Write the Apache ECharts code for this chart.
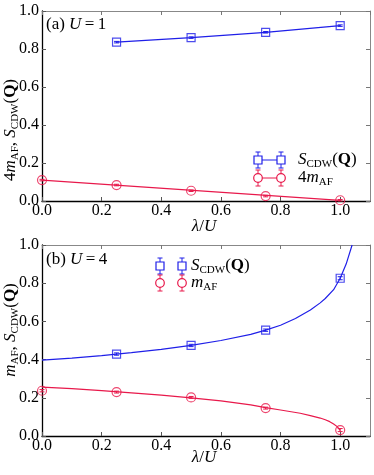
<!DOCTYPE html>
<html>
<head>
<meta charset="utf-8">
<script src="https://cdn.jsdelivr.net/npm/echarts@6/dist/echarts.min.js"></script>
<style>
  html, body { margin: 0; padding: 0; background: #fff; }
  #chart { width: 374px; height: 475px; }
</style>
</head>
<body>
<div id="chart"></div>
<script>
// panel (a) U=1
const lamA = [0.25, 0.5, 0.75, 1.0]
const sCdwA = [0.836, 0.860, 0.888, 0.923]
const sCdwAErr = [0.004, 0.004, 0.004, 0.004]
const lamMA = [0, 0.25, 0.5, 0.75, 1.0]
const mAfA = [0.110, 0.084, 0.054, 0.026, 0.004]
const mAfAErr = [0.004, 0.004, 0.004, 0.004, 0.004]
const fitLamMA = [0, 1.0]
const fitMAfA = [0.110, 0.003]

// panel (b) U=4
const lamB = [0.25, 0.5, 0.75, 1.0]
const sCdwB = [0.429, 0.474, 0.554, 0.826]
const sCdwBErr = [0.006, 0.006, 0.006, 0.008]
const lamMB = [0, 0.25, 0.5, 0.75, 1.0]
const mAfB = [0.237, 0.230, 0.202, 0.146, 0.031]
const mAfBErr = [0.006, 0.005, 0.005, 0.005, 0.008]
const fitLamSB = [0, 0.1, 0.2, 0.3, 0.4, 0.5, 0.6, 0.7, 0.75, 0.8, 0.85, 0.9, 0.933, 0.95, 0.978, 1.0, 1.02, 1.04]
const fitSB = [0.397, 0.408, 0.421, 0.437, 0.454, 0.474, 0.500, 0.532, 0.554, 0.580, 0.615, 0.660, 0.697, 0.720, 0.766, 0.826, 0.900, 1.0]
const fitLamMB = [0, 0.1, 0.2, 0.3, 0.4, 0.5, 0.6, 0.7, 0.75, 0.8, 0.866, 0.9, 0.933, 0.95, 0.965, 0.978, 0.99, 1.0]
const fitMB = [0.256, 0.248, 0.238, 0.226, 0.214, 0.200, 0.184, 0.163, 0.149, 0.136, 0.119, 0.107, 0.094, 0.085, 0.075, 0.063, 0.049, 0.030]

const BLUE = '#1f1fe8'
const RED = '#e8194b'
const FONT = 'Liberation Serif'

const zip = (xs, ys) => xs.map((x, i) => [x, ys[i]])
const zipErr = (xs, ys, es) => xs.map((x, i) => [x, ys[i] - es[i], ys[i] + es[i]])

const rich = {
  n: { fontFamily: FONT, fontSize: 17, color: '#000', lineHeight: 20 },
  i: { fontFamily: FONT, fontSize: 17, fontStyle: 'italic', color: '#000', lineHeight: 20 },
  b: { fontFamily: FONT, fontSize: 17, fontWeight: 'bold', color: '#000', lineHeight: 20 },
  s: { fontFamily: FONT, fontSize: 11, color: '#000', lineHeight: 9, verticalAlign: 'bottom' }
}
const tickRich = { t: { fontFamily: FONT, fontSize: 16, color: '#000', lineHeight: 16 } }
const S_LABEL = '{i|S}{s|CDW}{n|(}{b|Q}{n|)}'

function errorBars(xi, yi, data, color) {
  return {
    type: 'custom',
    xAxisIndex: xi,
    yAxisIndex: yi,
    data: data,
    z: 3,
    renderItem(params, api) {
      const lo = api.coord([api.value(0), api.value(1)])
      const hi = api.coord([api.value(0), api.value(2)])
      const w = 2.5
      const st = { stroke: color, lineWidth: 1 }
      return {
        type: 'group',
        children: [
          { type: 'line', shape: { x1: lo[0], y1: lo[1], x2: hi[0], y2: hi[1] }, style: st },
          { type: 'line', shape: { x1: lo[0] - w, y1: lo[1], x2: lo[0] + w, y2: lo[1] }, style: st },
          { type: 'line', shape: { x1: hi[0] - w, y1: hi[1], x2: hi[0] + w, y2: hi[1] }, style: st }
        ]
      }
    }
  }
}

function points(xi, yi, data, symbol, size, color) {
  return {
    type: 'scatter',
    xAxisIndex: xi,
    yAxisIndex: yi,
    data: data,
    symbol: symbol,
    symbolSize: size,
    z: 4,
    itemStyle: { color: 'rgba(0,0,0,0)', borderColor: color, borderWidth: 1.2 }
  }
}

function curve(xi, yi, data, color) {
  return {
    type: 'line',
    xAxisIndex: xi,
    yAxisIndex: yi,
    data: data,
    showSymbol: false,
    symbol: 'none',
    clip: true,
    z: 2,
    lineStyle: { color: color, width: 1.2 }
  }
}

// legend swatch: two markers with error bars, optional joining line
function legendItem(x1, x2, y, symbol, color, joined) {
  const st = { stroke: color, lineWidth: 1, fill: null }
  const kids = []
  if (joined) kids.push({ type: 'line', shape: { x1: x1, y1: y, x2: x2, y2: y }, style: st })
  ;[x1, x2].forEach(x => {
    kids.push({ type: 'line', shape: { x1: x, y1: y - 8, x2: x, y2: y + 8 }, style: st })
    kids.push({ type: 'line', shape: { x1: x - 2.5, y1: y - 8, x2: x + 2.5, y2: y - 8 }, style: st })
    kids.push({ type: 'line', shape: { x1: x - 2.5, y1: y + 8, x2: x + 2.5, y2: y + 8 }, style: st })
    if (symbol === 'rect') {
      kids.push({ type: 'rect', shape: { x: x - 4, y: y - 4, width: 8, height: 8 }, style: { stroke: color, lineWidth: 1.2, fill: '#fff' } })
    } else {
      kids.push({ type: 'circle', shape: { cx: x, cy: y, r: 4.3 }, style: { stroke: color, lineWidth: 1.2, fill: '#fff' } })
    }
  })
  return { type: 'group', children: kids, z: 10 }
}

function txt(x, y, text, rot, align) {
  return {
    type: 'text',
    x: x,
    y: y,
    rotation: rot || 0,
    z: 10,
    style: { text: text, rich: rich, align: align || (rot ? 'center' : 'left'), verticalAlign: 'middle' }
  }
}

const grids = [
  { left: 42, top: 11, width: 328, height: 190 },
  { left: 42, top: 245, width: 328, height: 191 }
]

const tickFmt = v => '{t|' + v.toFixed(1) + '}'

const xAxes = []
const yAxes = []
grids.forEach((g, gi) => {
  xAxes.push({
    type: 'value', gridIndex: gi, position: 'bottom', min: 0, max: 1.1, interval: 0.2,
    axisLine: { show: true, lineStyle: { color: '#000', width: 1.3 } },
    axisTick: { show: true, inside: true, length: 4, lineStyle: { color: '#555' } },
    axisLabel: { fontFamily: FONT, fontSize: 16, color: '#000', margin: 2, showMaxLabel: false, formatter: tickFmt, rich: tickRich },
    splitLine: { show: false }
  })
  xAxes.push({
    type: 'value', gridIndex: gi, position: 'top', min: 0, max: 1.1, interval: 0.2,
    axisLine: { show: true, onZero: false, lineStyle: { color: '#888', width: 1 } },
    axisTick: { show: true, inside: true, length: 4, lineStyle: { color: '#777' } },
    axisLabel: { show: false },
    splitLine: { show: false }
  })
  yAxes.push({
    type: 'value', gridIndex: gi, position: 'left', min: 0, max: 1.0, interval: 0.2,
    axisLine: { show: true, onZero: false, lineStyle: { color: '#000', width: 1.3 } },
    axisTick: { show: true, inside: true, length: 4, lineStyle: { color: '#555' } },
    axisLabel: { fontFamily: FONT, fontSize: 16, color: '#000', margin: 3, formatter: tickFmt, rich: tickRich },
    splitLine: { show: false }
  })
  yAxes.push({
    type: 'value', gridIndex: gi, position: 'right', min: 0, max: 1.0, interval: 0.2,
    axisLine: { show: true, onZero: false, lineStyle: { color: '#888', width: 1 } },
    axisTick: { show: true, inside: true, length: 4, lineStyle: { color: '#777' } },
    axisLabel: { show: false },
    splitLine: { show: false }
  })
})

const option = {
  backgroundColor: '#fff',
  animation: false,
  textStyle: { fontFamily: FONT, fontSize: 16 },
  grid: grids,
  xAxis: xAxes,
  yAxis: yAxes,
  series: [
    // (a)
    curve(0, 0, zip(lamA, sCdwA), BLUE),
    errorBars(0, 0, zipErr(lamA, sCdwA, sCdwAErr), BLUE),
    points(0, 0, zip(lamA, sCdwA), 'rect', 8, BLUE),
    curve(0, 0, zip(fitLamMA, fitMAfA), RED),
    errorBars(0, 0, zipErr(lamMA, mAfA, mAfAErr), RED),
    points(0, 0, zip(lamMA, mAfA), 'circle', 9, RED),
    // (b)
    curve(2, 2, zip(fitLamSB, fitSB), BLUE),
    errorBars(2, 2, zipErr(lamB, sCdwB, sCdwBErr), BLUE),
    points(2, 2, zip(lamB, sCdwB), 'rect', 8, BLUE),
    curve(2, 2, zip(fitLamMB, fitMB), RED),
    errorBars(2, 2, zipErr(lamMB, mAfB, mAfBErr), RED),
    points(2, 2, zip(lamMB, mAfB), 'circle', 9, RED)
  ],
  graphic: [
    txt(46, 25, '{n|(a) }{i|U}{n|\u2009=\u20091}'),
    txt(46, 260, '{n|(b) }{i|U}{n|\u2009=\u20094}'),
    txt(11, 130, '{n|4}{i|m}{s|AF}{n|, }' + S_LABEL, Math.PI / 2),
    txt(11, 330, '{i|m}{s|AF}{n|, }' + S_LABEL, Math.PI / 2),
    txt(204, 227, '{i|λ}{n|/}{i|U}', 0, 'center'),
    txt(204, 458, '{i|λ}{n|/}{i|U}', 0, 'center'),
    legendItem(258, 281, 160, 'rect', BLUE, true),
    legendItem(258, 281, 178, 'circle', RED, true),
    txt(298, 160, S_LABEL),
    txt(298, 178, '{n|4}{i|m}{s|AF}'),
    legendItem(160, 182, 266, 'rect', BLUE, false),
    legendItem(160, 182, 283, 'circle', RED, false),
    txt(191, 266, S_LABEL),
    txt(191, 283, '{i|m}{s|AF}')
  ]
}

const chart = echarts.init(document.getElementById('chart'), null, { renderer: 'canvas' })
chart.setOption(option)
</script>
</body>
</html>
